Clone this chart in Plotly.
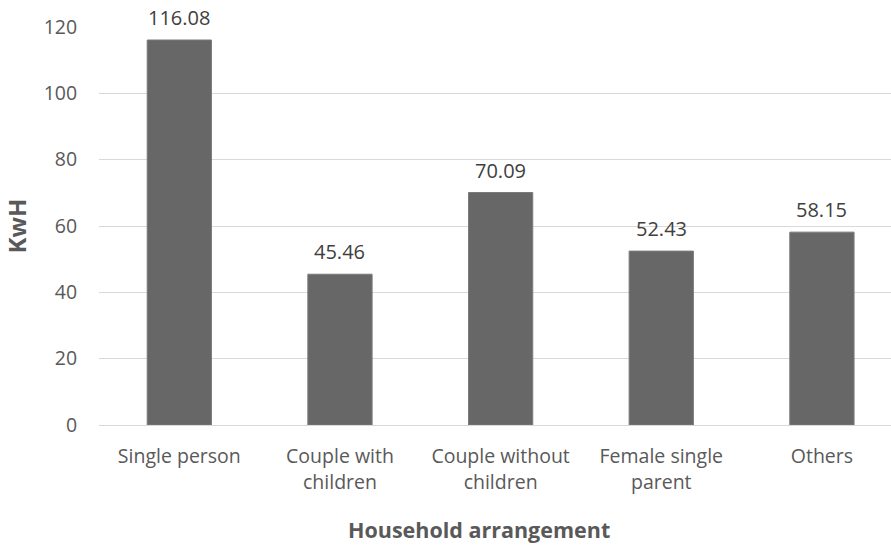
import plotly.graph_objects as go

categories = ["Single person", "Couple with<br>children", "Couple without<br>children", "Female single<br>parent", "Others"]
values = [116.08, 45.46, 70.09, 52.43, 58.15]
value_labels = ["116.08", "45.46", "70.09", "52.43", "58.15"]
y_ticks = [0, 20, 40, 60, 80, 100, 120]

FONT = "Open Sans"
TXT = "#595959"

x_pos = list(range(len(categories)))

fig = go.Figure(go.Bar(
    x=x_pos,
    y=values,
    width=0.4,
    marker=dict(color="#676767", line=dict(color="#7a7a7a", width=1)),
    cliponaxis=False,
))

for xi, v, lab in zip(x_pos, values, value_labels):
    fig.add_annotation(
        x=xi, y=v, xref="x", yref="y",
        text=lab, showarrow=False,
        yanchor="bottom", xanchor="center", yshift=7,
        font=dict(family=FONT, size=20, color="#404040"),
    )

fig.update_layout(
    width=891, height=545,
    margin=dict(l=99, r=0, t=27, b=120),
    plot_bgcolor="white", paper_bgcolor="white",
    showlegend=False,
    font=dict(family=FONT, color=TXT),
    xaxis=dict(
        range=[-0.5, 4.43],
        tickmode="array",
        tickvals=x_pos,
        ticktext=categories,
        tickfont=dict(family=FONT, size=19.5, color=TXT),
        showgrid=False, zeroline=False,
        showline=True, linecolor="#d9d9d9", linewidth=1,
        ticks="", ticklen=0,
        ticklabelstandoff=14,
    ),
    yaxis=dict(
        range=[0, 120],
        tickmode="array",
        tickvals=y_ticks,
        ticktext=[str(v) for v in y_ticks],
        tickfont=dict(family=FONT, size=19.5, color=TXT),
        showgrid=True, gridcolor="#d9d9d9", gridwidth=1,
        zeroline=False, showline=False,
        ticks="outside", ticklen=17, tickcolor="rgba(0,0,0,0)",
        title=dict(text="<b>KwH</b>", font=dict(family=FONT, size=24, color=TXT), standoff=14),
    ),
    bargap=0.6,
)

fig.add_annotation(
    text="<b>Household arrangement</b>",
    xref="paper", yref="paper",
    x=(479 - 99) / (891 - 99), y=-(529 - 425) / 398,
    xanchor="center", yanchor="middle",
    showarrow=False,
    font=dict(family=FONT, size=21.5, color=TXT),
)

fig.write_html("out.html")
